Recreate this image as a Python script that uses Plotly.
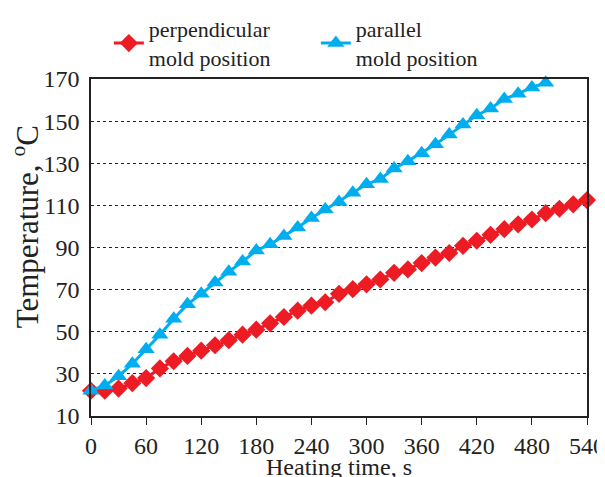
import plotly.graph_objects as go

time_perp = list(range(0, 541, 15))
temp_perp = [22, 22, 23, 25.6, 28, 32.6, 36, 38.5, 41, 43.6, 46, 48.6, 51, 54, 57,
             60, 62.4, 64, 68, 70.2, 72.5, 74.8, 78, 79.6, 82.6, 85.2, 87.4, 90.8,
             93.2, 96, 98.7, 101, 103.3, 106.3, 108.4, 110.5, 112.5]

time_par = list(range(0, 496, 15))
temp_par = [22, 24.5, 28.9, 34.8, 41.7, 48.6, 56.2, 63, 68, 73.4, 78.5, 83.3, 88.6,
            91.5, 95.5, 99.5, 104, 108, 111.6, 116, 120, 122.5, 127.5, 131, 134.8,
            139, 143.6, 148.4, 152.8, 156, 160.5, 163, 166, 168.2]

names = ["perpendicular<br>mold position", "parallel<br>mold position"]
x_ticks = list(range(0, 541, 60))
y_ticks = list(range(10, 171, 20))
x_title = "Heating time, s"
y_title = "Temperature, <sup>o</sup>C"

font = "Liberation Serif, Times New Roman, serif"

fig = go.Figure()
fig.add_trace(go.Scatter(
    x=time_perp, y=temp_perp, name=names[0], mode="lines+markers",
    line=dict(color="#ED1C24", width=3),
    marker=dict(symbol="diamond", size=14, color="#ED1C24"),
    cliponaxis=False))
fig.add_trace(go.Scatter(
    x=time_par, y=temp_par, name=names[1], mode="lines+markers",
    line=dict(color="#00AEEF", width=3),
    marker=dict(symbol="triangle-up", size=15, color="#00AEEF"),
    cliponaxis=False))

axis_common = dict(showline=True, linecolor="#222", linewidth=1.5, mirror=True,
                   zeroline=False, automargin=False,
                   tickfont=dict(family=font, size=24, color="#222"))

fig.update_xaxes(range=[0, 540], tickvals=x_ticks, ticks="outside", ticklen=7,
                 tickcolor="#222", showgrid=False, **axis_common)
fig.update_yaxes(range=[10, 170], tickvals=y_ticks, ticks="", showgrid=True,
                 gridcolor="#222", griddash="dot", gridwidth=1,
                 ticklabelstandoff=5, **axis_common)

# axis titles placed as text, where the reference shows them
fig.add_annotation(text=y_title, textangle=-90,
                   xref="paper", yref="paper", x=-0.133, y=0.56,
                   xanchor="center", yanchor="middle", showarrow=False,
                   font=dict(family=font, size=31, color="#222"))
fig.add_annotation(text=x_title,
                   xref="paper", yref="paper", x=0.5, y=-0.15,
                   xanchor="center", yanchor="middle", showarrow=False,
                   font=dict(family=font, size=24, color="#222"))

# the page adds an 8px body margin, so the figure is sized to fit the window
fig.update_layout(
    width=597, height=469,
    margin=dict(l=83, r=18, t=60, b=61),
    paper_bgcolor="white", plot_bgcolor="white",
    showlegend=True,
    legend=dict(orientation="h", x=0.036, xref="paper", y=1.0, yref="container",
                xanchor="left", yanchor="top",
                font=dict(family=font, size=22, color="#222"),
                entrywidth=162, bgcolor="rgba(0,0,0,0)", tracegroupgap=0),
)

fig.write_html("out.html")
